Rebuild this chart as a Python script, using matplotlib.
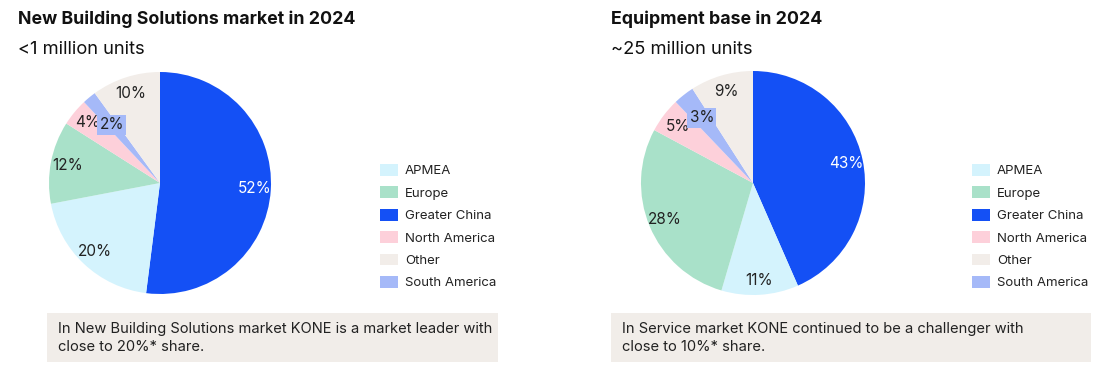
import matplotlib
matplotlib.use("Agg")
import matplotlib.pyplot as plt
from matplotlib.patches import Rectangle, Patch
import numpy as np

plt.rcParams['font.family'] = ['Inter', 'DejaVu Sans']

# Data
slice_order = ["Greater China", "APMEA", "Europe", "North America", "South America", "Other"]
nbs_values = [52, 20, 12, 4, 2, 10]
equip_values = [43, 11, 28, 5, 3, 9]
legend_order = ["APMEA", "Europe", "Greater China", "North America", "Other", "South America"]
colors = {
    "Greater China": "#1450F5",
    "APMEA": "#D4F3FD",
    "Europe": "#A9E1C9",
    "North America": "#FDD0DA",
    "South America": "#A5B9F8",
    "Other": "#F2EDE9",
}
titles = ["New Building Solutions market in 2024", "Equipment base in 2024"]
subtitles = ["<1 million units", "~25 million units"]
notes = ["In New Building Solutions market KONE is a market leader with\nclose to 20%* share.",
         "In Service market KONE continued to be a challenger with\nclose to 10%* share."]

W, H = 1100, 367
fig = plt.figure(figsize=(W/100, H/100), dpi=100)

def fx(x): return x / W
def fy(y): return 1 - y / H

panels = [
    dict(values=nbs_values, cx=160, cy=183, r=111, tx=18, legx=380, boxx=47, boxw=451,
         boxed={"South America"}, dist={"South America": 0.68}),
    dict(values=equip_values, cx=753, cy=183, r=112, tx=611, legx=972, boxx=611, boxw=480,
         boxed={"South America"}, dist={"South America": 0.74, "North America": 0.84,
                                        "APMEA": 0.87}),
]

for i, p in enumerate(panels):
    r = p["r"]
    ax = fig.add_axes([fx(p["cx"] - r), fy(p["cy"] + r), 2*r/W, 2*r/H])
    cols = [colors[n] for n in slice_order]
    wedges, _ = ax.pie(p["values"], colors=cols, startangle=90, counterclock=False,
                       radius=1, wedgeprops=dict(linewidth=0))
    ax.set_xlim(-1, 1); ax.set_ylim(-1, 1)
    ax.set_aspect('equal')
    ax.axis('off')
    total = sum(p["values"])
    start = 90.0
    for name, v, w in zip(slice_order, p["values"], wedges):
        ang = start - 360.0 * v / total / 2
        start -= 360.0 * v / total
        d = p["dist"].get(name, 0.85)
        x, y = d*np.cos(np.radians(ang)), d*np.sin(np.radians(ang))
        tcol = "white" if name == "Greater China" else "#222222"
        kw = {}
        if name in p["boxed"]:
            kw["bbox"] = dict(boxstyle="square,pad=0.15", fc=colors[name], ec="none")
        ax.text(x, y, f"{v}%", ha="center", va="center", fontsize=11, color=tcol, **kw)

    # titles
    fig.text(fx(p["tx"]), fy(19), titles[i], fontsize=12.8, fontweight="bold",
             ha="left", va="center", color="#111111")
    fig.text(fx(p["tx"]), fy(50), subtitles[i], fontsize=13.2,
             ha="left", va="center", color="#111111")

    # legend
    handles = [Patch(facecolor=colors[n], edgecolor="none", label=n) for n in legend_order]
    fig.legend(handles=handles, loc="upper left",
               bbox_to_anchor=(fx(p["legx"]), fy(164)), frameon=False,
               fontsize=9.5, handlelength=1.4, handleheight=1.0, handletextpad=0.5,
               labelspacing=0.68, borderaxespad=0, borderpad=0, labelcolor="#222222")

    # note box
    fig.patches.append(Rectangle((fx(p["boxx"]), fy(362)), p["boxw"]/W, 49/H,
                                 transform=fig.transFigure, fc="#F1EDE9", ec="none", zorder=0))
    fig.text(fx(p["boxx"] + 11), fy(338), notes[i], fontsize=10.6, ha="left", va="center",
             color="#222222", linespacing=1.4)

fig.savefig("out.png", dpi=100)
